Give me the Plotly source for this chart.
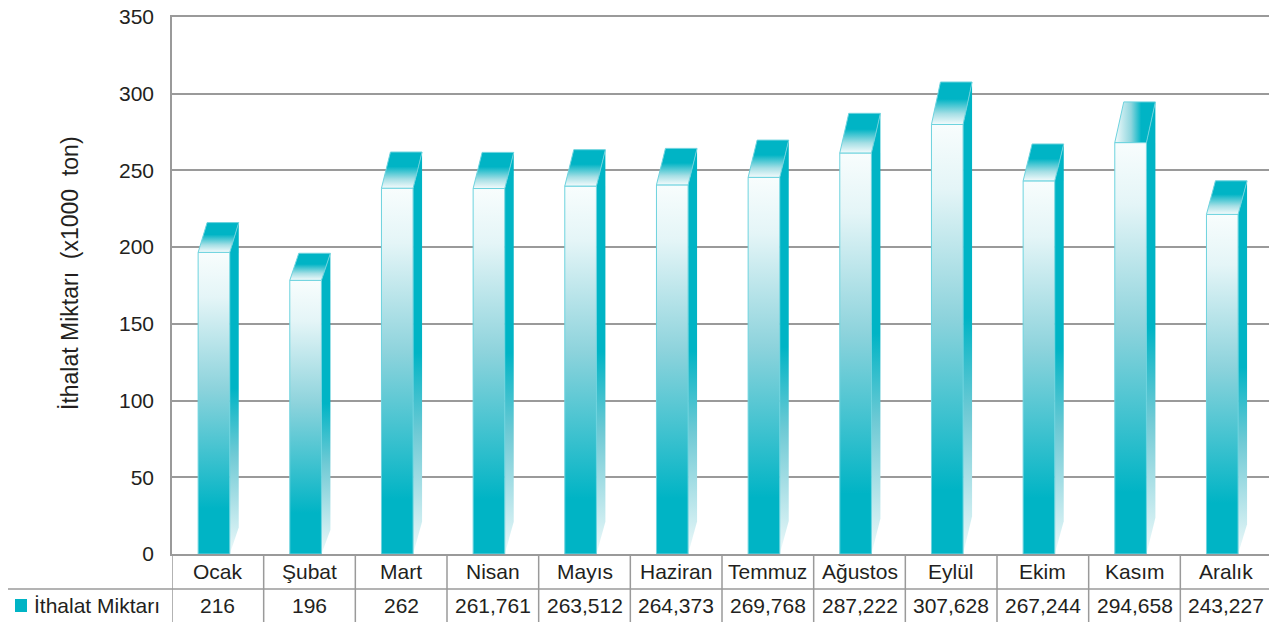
import plotly.graph_objects as go

# Données : importations mensuelles (x1000 ton)
months = ['Ocak', 'Şubat', 'Mart', 'Nisan', 'Mayıs', 'Haziran', 'Temmuz',
          'Ağustos', 'Eylül', 'Ekim', 'Kasım', 'Aralık']
values = [216, 196, 262, 261.761, 263.512, 264.373, 269.768,
          287.222, 307.628, 267.244, 294.658, 243.227]
value_labels = ['216', '196', '262', '261,761', '263,512', '264,373', '269,768',
                '287,222', '307,628', '267,244', '294,658', '243,227']
series_name = 'İthalat Miktarı'
y_ticks = [0, 50, 100, 150, 200, 250, 300, 350]

TEAL = '#00b4c5'
EDGE = '#6dd3de'
GRID = '#9a9a9a'
FONT = 'Liberation Sans, Arial, sans-serif'
TXT = '#231f20'

# géométrie des barres "3D" (en unités de catégorie / fraction de la valeur)
LEFT, RIGHT, DX = -0.215, 0.13, 0.098
FRONT_TOP = 0.91
SIDE_BOTTOM = 0.08

front_scale = [[0, TEAL], [0.15, TEAL], [0.55, '#8dd3dc'], [0.85, '#e4f5f7'], [1, '#f8fdfd']]
side_scale = [[0, '#eef9fa'], [0.3, '#6fcad5'], [0.5, TEAL], [1, TEAL]]
top_scale = [[0, '#f4fbfc'], [0.25, '#a6dfe5'], [0.6, TEAL], [1, TEAL]]
top_scale_h = [[0, '#f4fbfc'], [0.4, '#8fd6de'], [0.65, TEAL], [1, TEAL]]

fig = go.Figure()

for i, v in enumerate(values):
    xl, xr = i + LEFT, i + RIGHT
    ft = v * FRONT_TOP
    # face latérale
    fig.add_trace(go.Scatter(
        x=[xr, xr, xr + DX, xr + DX, xr],
        y=[0, ft, v, v * SIDE_BOTTOM, 0],
        fill='toself', mode='lines', line=dict(width=0),
        fillgradient=dict(type='vertical', colorscale=side_scale),
        hoverinfo='skip', showlegend=False,
    ))
    # face avant
    fig.add_trace(go.Scatter(
        x=[xl, xr, xr, xl, xl],
        y=[0, 0, ft, ft, 0],
        fill='toself', mode='lines', line=dict(width=1, color=EDGE),
        fillgradient=dict(type='vertical', colorscale=front_scale),
        name=months[i],
        hovertemplate=f'{months[i]}<br>{value_labels[i]}<extra></extra>',
        showlegend=False,
    ))
    # face supérieure (Kasım a un dégradé horizontal dans l'original)
    grad = (dict(type='horizontal', colorscale=top_scale_h) if months[i] == 'Kasım'
            else dict(type='vertical', colorscale=top_scale))
    fig.add_trace(go.Scatter(
        x=[xl, xr, xr + DX, xl + DX, xl],
        y=[ft, ft, v, v, ft],
        fill='toself', mode='lines', line=dict(width=1, color=EDGE),
        fillgradient=grad,
        hoverinfo='skip', showlegend=False,
    ))

# Tableau de données sous le graphique (positions relatives à la zone de tracé)
PW, PH = 1100, 537  # taille de la zone de tracé en px
ROW1 = -35 / PH
ROW_BOTTOM = -0.14
LEFT_EDGE = -165 / PW
for i in range(len(months) + 1):
    fig.add_shape(type='line', xref='x', yref='paper',
                  x0=i - 0.5, x1=i - 0.5, y0=0, y1=ROW_BOTTOM,
                  line=dict(color=GRID, width=1.5))
fig.add_shape(type='line', xref='paper', yref='paper',
              x0=LEFT_EDGE, x1=1, y0=ROW1, y1=ROW1,
              line=dict(color=GRID, width=1.5))
fig.add_shape(type='line', xref='paper', yref='paper',
              x0=LEFT_EDGE, x1=LEFT_EDGE, y0=ROW1, y1=ROW_BOTTOM,
              line=dict(color=GRID, width=1.5))
# marqueur de légende
fig.add_shape(type='rect', xref='paper', yref='paper',
              x0=-157 / PW, x1=-145 / PW, y0=-45 / PH, y1=-58 / PH,
              fillcolor=TEAL, line=dict(width=0))
fig.add_annotation(x=-140 / PW, y=-51 / PH, xref='paper', yref='paper',
                   text=series_name, showarrow=False, xanchor='left', yanchor='middle',
                   font=dict(size=21, color=TXT, family=FONT))

for i, (m, lab) in enumerate(zip(months, value_labels)):
    fig.add_annotation(x=i, y=-17 / PH, xref='x', yref='paper', text=m,
                       showarrow=False, yanchor='middle',
                       font=dict(size=21, color=TXT, family=FONT))
    fig.add_annotation(x=i, y=-51 / PH, xref='x', yref='paper', text=lab,
                       showarrow=False, yanchor='middle',
                       font=dict(size=21, color=TXT, family=FONT))

# Titre de l'axe Y
fig.add_annotation(x=-102 / PW, y=281 / PH, xref='paper', yref='paper',
                   text='İthalat Miktarı  (x1000  ton)', textangle=-90,
                   showarrow=False, xanchor='center', yanchor='middle',
                   font=dict(size=23, color=TXT, family=FONT))

# la page ajoute une marge de 8 px autour du graphique
fig.update_layout(
    width=1269, height=614,
    margin=dict(l=164, r=5, t=9, b=68),
    paper_bgcolor='white', plot_bgcolor='white',
    showlegend=False,
    font=dict(family=FONT, size=21, color=TXT),
)
fig.update_xaxes(range=[-0.5, len(months) - 0.5], showticklabels=False, showgrid=False,
                 zeroline=False, showline=True, linecolor=GRID, linewidth=1.5, mirror=True,
                 fixedrange=True, automargin=False)
fig.update_yaxes(range=[0, 350], tickvals=y_ticks, showgrid=True, gridcolor=GRID, gridwidth=1.5,
                 zeroline=False, showline=True, linecolor=GRID, linewidth=1.5, mirror=True,
                 ticks='', ticklabelstandoff=12, ticklabeloverflow='allow',
                 tickfont=dict(size=21, color=TXT, family=FONT),
                 fixedrange=True, automargin=False)

fig.write_html('out.html')
